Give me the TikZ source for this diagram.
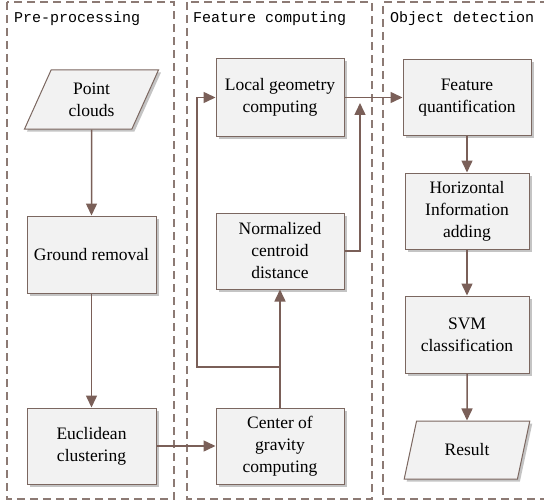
\documentclass[tikz,border=0pt]{standalone}
\usepackage{fontspec}
\setmainfont{Liberation Serif}
\newfontfamily\titlefont{Liberation Mono}
\usetikzlibrary{arrows.meta,shapes.geometric,shadows}
\definecolor{edgec}{HTML}{7B6760}
\definecolor{arrc}{HTML}{7A5F58}
\definecolor{dashc}{HTML}{8C7A74}
\definecolor{boxfill}{HTML}{F2F2F2}
\definecolor{shadc}{HTML}{C4C4C4}
\tikzset{
  x=1pt,y=-1pt,
  panel/.style={draw=dashc,line width=1.1pt,dash pattern=on 8pt off 5pt},
  ptitle/.style={anchor=west,font=\titlefont\fontsize{15}{18}\selectfont,inner sep=0pt},
  proc/.style={draw=edgec,line width=1pt,fill=boxfill,align=center,
    font=\rmfamily\fontsize{17.5}{22}\selectfont,inner sep=0pt,
    drop shadow={shadow xshift=2.5pt,shadow yshift=-2.5pt,fill=shadc,opacity=1}},
  io/.style={proc,trapezium,trapezium left angle=66,trapezium right angle=114,
    trapezium stretches=true},
  arr/.style={draw=arrc,line width=1.5pt,-{Triangle[length=12pt,width=11pt]}},
}
\begin{document}
\begin{tikzpicture}
\useasboundingbox (0,0) rectangle (544,503);
% panels
\draw[panel] (7,2) rectangle (174,499);
\draw[panel] (187,2) rectangle (372,499);
\draw[panel] (548,2) -- (383,2) -- (383,499) -- (548,499);
\node[ptitle] (t1) at (14,19) {Pre-processing};
\node[ptitle] (t2) at (193,19) {Feature computing};
\node[ptitle] (t3) at (390,19) {Object detection};
% nodes
\node[io,minimum width=134pt,minimum height=59pt] (pc) at (91.5,99.5) {Point\\clouds};
\node[proc,minimum width=129pt,minimum height=77pt] (gr) at (91.5,254.5) {Ground removal};
\node[proc,minimum width=129pt,minimum height=76pt] (ec) at (91.5,446) {Euclidean\\clustering};
\node[proc,minimum width=128pt,minimum height=77pt] (lg) at (280,97.5) {Local geometry\\computing};
\node[proc,minimum width=128pt,minimum height=76pt] (nc) at (280,251) {Normalized\\centroid\\distance};
\node[proc,minimum width=128pt,minimum height=76pt] (cg) at (280,446) {Center of\\gravity\\computing};
\node[proc,minimum width=128pt,minimum height=75pt] (fq) at (467,97.5) {Feature\\quantification};
\node[proc,minimum width=124pt,minimum height=76pt] (hi) at (467,211) {Horizontal\\Information\\adding};
\node[proc,minimum width=124pt,minimum height=77pt] (svm) at (467,334.5) {SVM\\classification};
\node[io,minimum width=126pt,minimum height=58pt] (res) at (467,450) {Result};
% connectors
\draw[arr] (pc.south) -- (gr.north);
\draw[arr] (gr.south) -- (ec.north);
\draw[arr] (ec.east) -- (cg.west);
\draw[arr] (cg.north) -- (nc.south);
\coordinate (j1) at (280,367);
\coordinate (b1) at (197,367);
\draw[arr] (j1) -- (b1) |- (lg.west);
\coordinate (up) at (360,103);
\draw[arr] (nc.east) -| (up);
\draw[arr] (lg.east) -- (fq.west);
\draw[arr] (fq.south) -- (hi.north);
\draw[arr] (hi.south) -- (svm.north);
\draw[arr] (svm.south) -- (res.north);
\end{tikzpicture}
\end{document}
